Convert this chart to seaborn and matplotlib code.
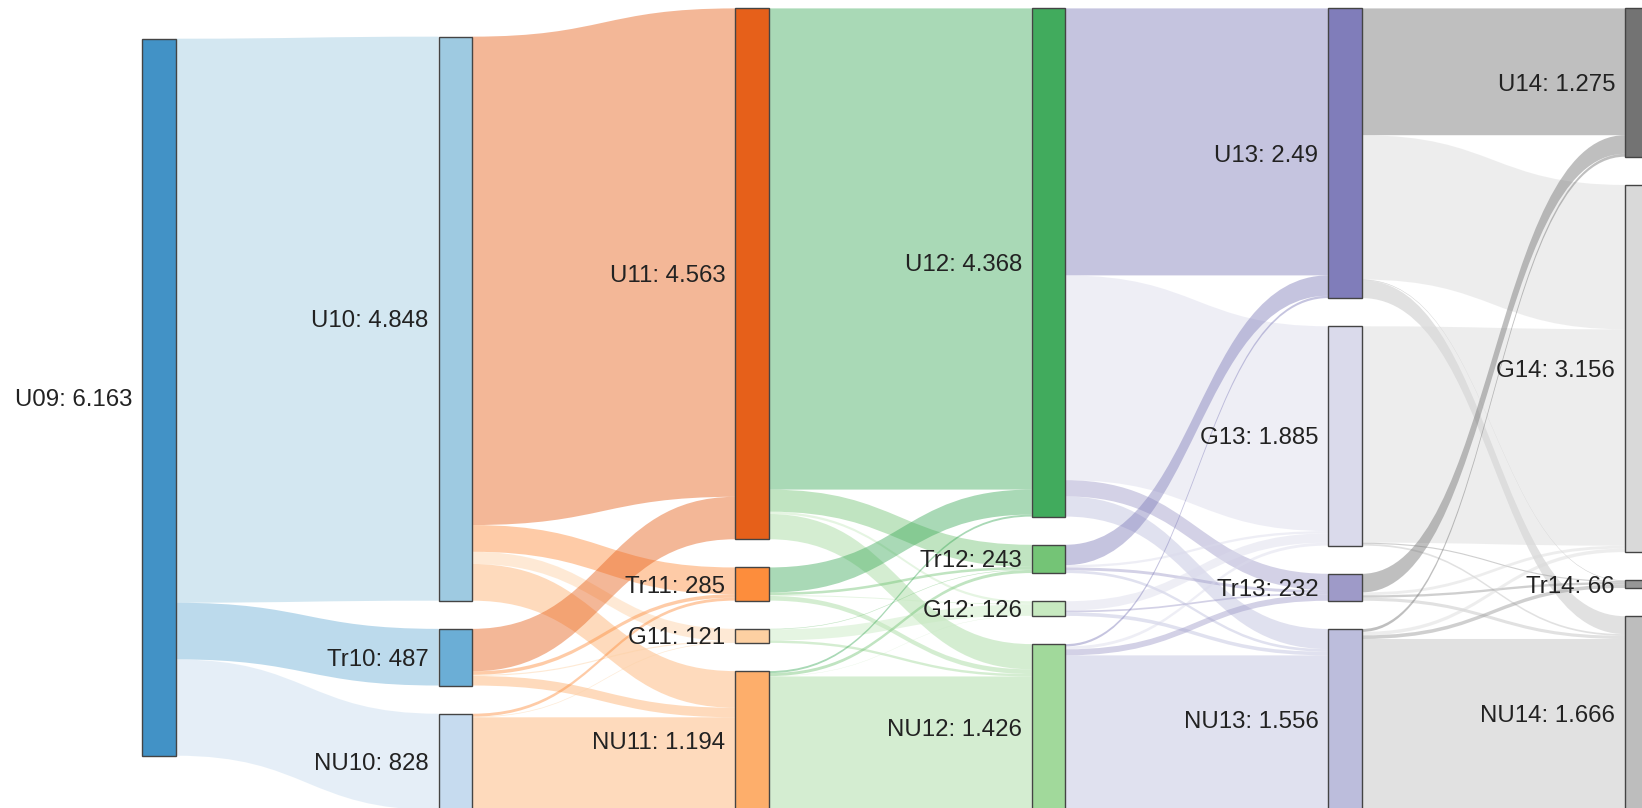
import numpy as np
import matplotlib.pyplot as plt
import seaborn as sns
from matplotlib.path import Path
from matplotlib.patches import PathPatch, Rectangle

# nodes per year, top to bottom
nodes_09 = ["U09"]
nodes_10 = ["U10", "Tr10", "NU10"]
nodes_11 = ["U11", "Tr11", "G11", "NU11"]
nodes_12 = ["U12", "Tr12", "G12", "NU12"]
nodes_13 = ["U13", "G13", "Tr13", "NU13"]
nodes_14 = ["U14", "G14", "Tr14", "NU14"]

# flows between years: rows = source nodes, columns = target nodes
flows_09_10 = [[4848, 487, 828]]
flows_10_11 = [[4198, 230, 105, 315],
               [365, 30, 10, 82],
               [0, 25, 6, 797]]
flows_11_12 = [[4136, 190, 20, 217],
               [215, 22, 8, 40],
               [0, 5, 95, 21],
               [17, 26, 3, 1148]]
flows_12_13 = [[2295, 1760, 140, 173],
               [175, 20, 25, 23],
               [0, 80, 15, 31],
               [20, 25, 52, 1329]]
flows_13_14 = [[1090, 1241, 5, 154],
               [0, 1860, 10, 15],
               [160, 25, 20, 27],
               [25, 30, 31, 1470]]

colors_09 = ["#4292c6"]
colors_10 = ["#9ecae1", "#6baed6", "#c6dbef"]
colors_11 = ["#e6601a", "#fd8d3c", "#fdd0a2", "#fdae6b"]
colors_12 = ["#41ab5d", "#74c476", "#c7e9c0", "#a1d99b"]
colors_13 = ["#807dba", "#dadaeb", "#9e9ac8", "#bcbddc"]
colors_14 = ["#737373", "#d9d9d9", "#969696", "#bdbdbd"]

columns = [nodes_09, nodes_10, nodes_11, nodes_12, nodes_13, nodes_14]
colors = [colors_09, colors_10, colors_11, colors_12, colors_13, colors_14]
flows = [np.array(f) for f in [flows_09_10, flows_10_11, flows_11_12, flows_12_13, flows_13_14]]

sns.set_theme(style="white")
plt.rcParams["font.family"] = ["Liberation Sans", "DejaVu Sans"]

W, H = 1642, 808
fig = plt.figure(figsize=(W / 100, H / 100), dpi=100)
ax = fig.add_axes([0, 0, 1, 1])
ax.set_xlim(0, W)
ax.set_ylim(H, 0)
ax.axis("off")

scale = 0.11634      # px per person
gap = 28.2
node_w = 33.5
col_x = 142 + 296.6 * np.arange(len(columns))
col_top = [38.7, 36.65, 8.4, 8.4, 8.4, 8.4]


def fmt(v):
    v = int(v)
    if v < 1000:
        return str(v)
    return f"{v / 1000:.3f}".rstrip("0").rstrip(".")


# node values = max(inflow, outflow)
values = []
for i, names in enumerate(columns):
    inflow = flows[i - 1].sum(axis=0) if i > 0 else np.zeros(len(names))
    outflow = flows[i].sum(axis=1) if i < len(flows) else np.zeros(len(names))
    values.append(np.maximum(inflow, outflow))

tops = []
for i, v in enumerate(values):
    h = v * scale
    t = col_top[i] + np.concatenate([[0], np.cumsum(h + gap)[:-1]])
    tops.append(t)

# links
for i, f in enumerate(flows):
    x0 = col_x[i] + node_w
    x1 = col_x[i + 1]
    xm = (x0 + x1) / 2
    h = f * scale
    src_off = tops[i][:, None] + np.concatenate([np.zeros((f.shape[0], 1)), np.cumsum(h, axis=1)[:, :-1]], axis=1)
    tgt_off = tops[i + 1][None, :] + np.concatenate([np.zeros((1, f.shape[1])), np.cumsum(h, axis=0)[:-1, :]], axis=0)
    for s in range(f.shape[0]):
        for t in range(f.shape[1]):
            if f[s, t] <= 0:
                continue
            ys0, yt0 = src_off[s, t], tgt_off[s, t]
            ys1, yt1 = ys0 + h[s, t], yt0 + h[s, t]
            verts = [(x0, ys0), (xm, ys0), (xm, yt0), (x1, yt0),
                     (x1, yt1), (xm, yt1), (xm, ys1), (x0, ys1), (x0, ys0)]
            codes = [Path.MOVETO, Path.CURVE4, Path.CURVE4, Path.CURVE4,
                     Path.LINETO, Path.CURVE4, Path.CURVE4, Path.CURVE4, Path.CLOSEPOLY]
            ax.add_patch(PathPatch(Path(verts, codes), facecolor=colors[i + 1][t],
                                   alpha=0.45, edgecolor="none", lw=0))

# nodes and labels
for i, names in enumerate(columns):
    for j, name in enumerate(names):
        y = tops[i][j]
        hh = values[i][j] * scale
        ax.add_patch(Rectangle((col_x[i], y), node_w, hh, facecolor=colors[i][j],
                               edgecolor="#444444", lw=1.0))
        ax.text(col_x[i] - 10, y + hh / 2, f"{name}: {fmt(values[i][j])}",
                ha="right", va="center_baseline", fontsize=17.3, color="#222222")

fig.savefig("out.png", dpi=100)
